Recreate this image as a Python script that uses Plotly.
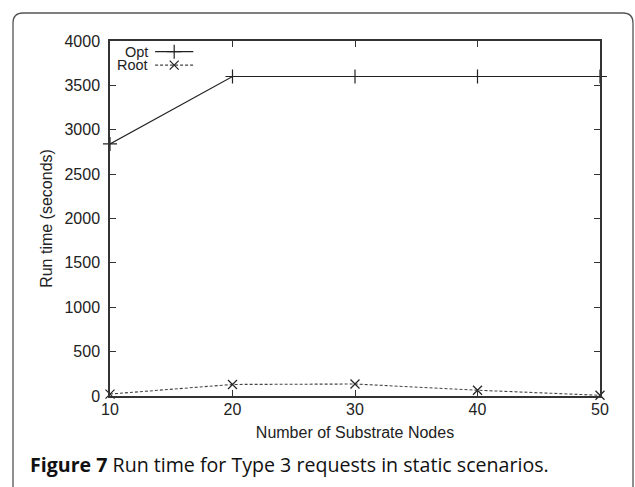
import plotly.graph_objects as go

nodes = [10, 20, 30, 40, 50]
opt_time = [2840, 3600, 3600, 3600, 3600]
root_time = [22, 130, 135, 65, 8]
y_ticks = [0, 500, 1000, 1500, 2000, 2500, 3000, 3500, 4000]

W, H = 635, 487
L, R, T, B = 110, 35, 41, 91

fig = go.Figure()
fig.add_trace(go.Scatter(x=nodes, y=opt_time, mode="lines+markers", name="Opt",
                         line=dict(color="#222", width=1.2),
                         marker=dict(symbol="cross-thin", size=10, line=dict(color="#222", width=1.2)),
                         showlegend=False, cliponaxis=False))
fig.add_trace(go.Scatter(x=nodes, y=root_time, mode="lines+markers", name="Root",
                         line=dict(color="#444", width=1.1, dash="3px,2px"),
                         marker=dict(symbol="x-thin", size=9, line=dict(color="#222", width=1.2)),
                         showlegend=False, cliponaxis=False))

# legend samples on an overlay axis (0..1 in plot area)
fig.add_trace(go.Scatter(x=[0.092, 0.17], y=[0.97, 0.97], xaxis="x2", yaxis="y2", mode="lines",
                         line=dict(color="#222", width=1.2), showlegend=False, hoverinfo="skip"))
fig.add_trace(go.Scatter(x=[0.131], y=[0.97], xaxis="x2", yaxis="y2", mode="markers",
                         marker=dict(symbol="cross-thin", size=10, line=dict(color="#222", width=1.2)),
                         showlegend=False, hoverinfo="skip"))
fig.add_trace(go.Scatter(x=[0.092, 0.17], y=[0.932, 0.932], xaxis="x2", yaxis="y2", mode="lines",
                         line=dict(color="#444", width=1.1, dash="3px,2px"), showlegend=False, hoverinfo="skip"))
fig.add_trace(go.Scatter(x=[0.131], y=[0.932], xaxis="x2", yaxis="y2", mode="markers",
                         marker=dict(symbol="x-thin", size=9, line=dict(color="#222", width=1.2)),
                         showlegend=False, hoverinfo="skip"))

font = "Liberation Sans, Arial, sans-serif"
axis_common = dict(showgrid=False, zeroline=False, showline=True, linecolor="#333", linewidth=1.5,
                   mirror="allticks", ticks="inside", ticklen=6, tickcolor="#333", tickwidth=1,
                   tickfont=dict(family=font, size=16, color="#222"))

fig.update_layout(
    width=W, height=H,
    margin=dict(l=L, r=R, t=T, b=B),
    paper_bgcolor="white", plot_bgcolor="white",
    xaxis=dict(range=[10, 50], tickvals=nodes, **axis_common, ticklabelstandoff=-2,
               title=dict(text="Number of Substrate Nodes", font=dict(family=font, size=16, color="#222"),
                          standoff=10)),
    yaxis=dict(range=[0, 4000], tickvals=y_ticks, **axis_common, ticklabelstandoff=5,
               title=dict(text="Run time (seconds)", font=dict(family=font, size=16, color="#222"),
                          standoff=8)),
    xaxis2=dict(range=[0, 1], overlaying="x", visible=False, fixedrange=True),
    yaxis2=dict(range=[0, 1], overlaying="y", visible=False, fixedrange=True),
    showlegend=False,
)

# legend texts
fig.add_annotation(xref="paper", yref="paper", x=0.082, y=0.97, text="Opt", showarrow=False,
                   xanchor="right", yanchor="middle", font=dict(family=font, size=14.5, color="#222"))
fig.add_annotation(xref="paper", yref="paper", x=0.082, y=0.932, text="Root", showarrow=False,
                   xanchor="right", yanchor="middle", font=dict(family=font, size=14.5, color="#222"))

# caption
fig.add_annotation(xref="paper", yref="paper", x=(28 - L) / (W - L - R), y=-(464 - (H - B)) / (H - T - B),
                   text="<b>Figure 7</b> Run time for Type 3 requests in static scenarios.",
                   showarrow=False, xanchor="left", yanchor="middle",
                   font=dict(family="Open Sans, sans-serif", size=19.6, color="#111"))

# outer rounded box
px = lambda X: (X - L) / (W - L - R)
py = lambda Y: 1 - (Y - T) / (H - T - B)
x0, x1, y0, yb, r = 13, 633, 13, 520, 10
path = (f"M {px(x0)},{py(yb)} L {px(x0)},{py(y0 + r)} "
        f"Q {px(x0)},{py(y0)} {px(x0 + r)},{py(y0)} "
        f"L {px(x1 - r)},{py(y0)} Q {px(x1)},{py(y0)} {px(x1)},{py(y0 + r)} "
        f"L {px(x1)},{py(yb)}")
fig.add_shape(type="path", xref="paper", yref="paper", path=path,
              line=dict(color="#555", width=1.3), layer="below")

fig.write_html("out.html", config={"displayModeBar": False},
               post_script="document.body.style.margin='0';document.body.style.padding='0';")
